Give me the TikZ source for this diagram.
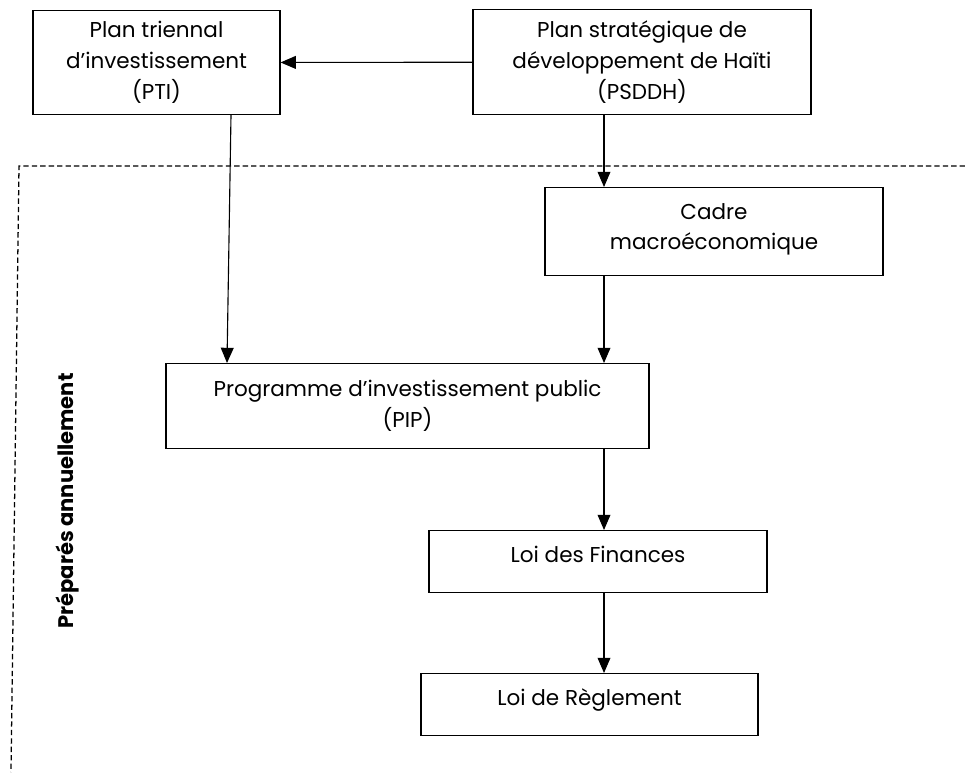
\documentclass[tikz,border=0pt]{standalone}
\usepackage{fontspec}
\setmainfont{Poppins}
\usetikzlibrary{arrows.meta}
\begin{document}
\begin{tikzpicture}[
  boite/.style={draw, line width=0.8pt, align=center, anchor=north, inner sep=0pt,
    font=\fontsize{15.3pt}{22pt}\selectfont},
  haut/.style={text height=0.4cm, text depth=0.36cm},
  fleche/.style={line width=0.8pt, -{Triangle[length=0.38cm,width=0.32cm]}},
  cadre/.style={line width=0.9pt, dash pattern=on 3.8pt off 2.2pt}]
\useasboundingbox (0,0) rectangle (24.125,-19.475);
\node[boite, minimum width=6.175cm, minimum height=2.6cm] (pti) at (3.9125,-0.25) {Plan triennal\\d’investissement\\(PTI)};
\node[boite, minimum width=8.45cm, minimum height=2.625cm] (psddh) at (16.05,-0.225) {Plan stratégique de\\développement de Haïti\\(PSDDH)};
\node[boite, minimum width=8.45cm, minimum height=2.2cm, text depth=0.25cm] (macro) at (17.85,-4.675) {Cadre\\macroéconomique};
\node[boite, minimum width=12.075cm, minimum height=2.125cm] (pip) at (10.1875,-9.075) {Programme d’investissement public\\(PIP)};
\node[boite, haut, minimum width=8.45cm, minimum height=1.55cm] (ldf) at (14.95,-13.25) {Loi des Finances};
\node[boite, haut, minimum width=8.425cm, minimum height=1.55cm] (ldr) at (14.7375,-16.825) {Loi de Règlement};
\coordinate (axe) at (15.1,0);

\draw [fleche] (psddh) -- (pti);
\draw [fleche] (psddh.south -| axe) -- (macro.north -| axe);
\draw [fleche] (macro.south -| axe) -- (pip.north -| axe);
\draw [fleche] (pip.south -| axe) -- (ldf.north -| axe);
\draw [fleche] (ldf.south -| axe) -- (ldr.north -| axe);
\draw [fleche] ([xshift=1.8625cm]pti.south) -- ([xshift=-4.5125cm]pip.north);

\draw [cadre] (24.125,-4.15) -- (0.475,-4.15) -- (0.275,-19.3);
\node[rotate=90, font=\fontsize{15pt}{21pt}\bfseries] (annuel) at (1.7,-12.525) {Préparés annuellement};
\end{tikzpicture}
\end{document}
